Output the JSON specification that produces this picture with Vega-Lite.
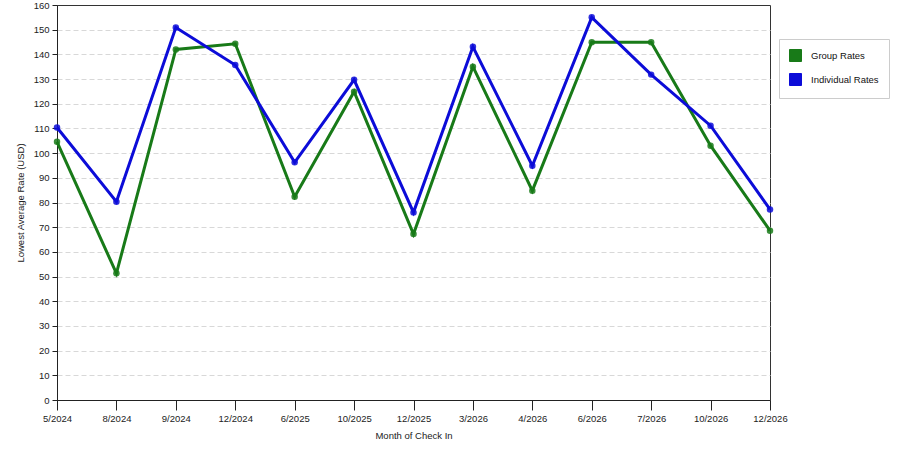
{
  "$schema": "https://vega.github.io/schema/vega-lite/v6.json",
  "autosize": {"type": "none"},
  "padding": {"left": 57, "top": 5, "right": 130, "bottom": 50},
  "width": 713,
  "height": 395,
  "background": "white",
  "config": {
    "font": "Liberation Sans",
    "view": {"stroke": "#333", "strokeWidth": 1},
    "axis": {
      "labelFont": "Liberation Sans",
      "labelFontSize": 9.5,
      "labelColor": "#222",
      "titleFont": "Liberation Sans",
      "titleFontSize": 9.5,
      "titleFontWeight": "normal",
      "titleColor": "#222",
      "domainColor": "#222",
      "tickColor": "#222"
    }
  },
  "data": {
    "values": [
      {"month": "5/2024", "series": "Group Rates", "rate": 104.6},
      {"month": "5/2024", "series": "Individual Rates", "rate": 110.4},
      {"month": "8/2024", "series": "Group Rates", "rate": 51.3},
      {"month": "8/2024", "series": "Individual Rates", "rate": 80.3},
      {"month": "9/2024", "series": "Group Rates", "rate": 142.0},
      {"month": "9/2024", "series": "Individual Rates", "rate": 150.9},
      {"month": "12/2024", "series": "Group Rates", "rate": 144.3},
      {"month": "12/2024", "series": "Individual Rates", "rate": 135.7},
      {"month": "6/2025", "series": "Group Rates", "rate": 82.3},
      {"month": "6/2025", "series": "Individual Rates", "rate": 96.3},
      {"month": "10/2025", "series": "Group Rates", "rate": 124.9},
      {"month": "10/2025", "series": "Individual Rates", "rate": 129.7},
      {"month": "12/2025", "series": "Group Rates", "rate": 67.2},
      {"month": "12/2025", "series": "Individual Rates", "rate": 76.0},
      {"month": "3/2026", "series": "Group Rates", "rate": 135.0},
      {"month": "3/2026", "series": "Individual Rates", "rate": 143.1},
      {"month": "4/2026", "series": "Group Rates", "rate": 84.8},
      {"month": "4/2026", "series": "Individual Rates", "rate": 94.9},
      {"month": "6/2026", "series": "Group Rates", "rate": 144.9},
      {"month": "6/2026", "series": "Individual Rates", "rate": 155.0},
      {"month": "7/2026", "series": "Group Rates", "rate": 144.9},
      {"month": "7/2026", "series": "Individual Rates", "rate": 131.8},
      {"month": "10/2026", "series": "Group Rates", "rate": 103.0},
      {"month": "10/2026", "series": "Individual Rates", "rate": 111.1},
      {"month": "12/2026", "series": "Group Rates", "rate": 68.6},
      {"month": "12/2026", "series": "Individual Rates", "rate": 77.2}
    ]
  },
  "mark": {
    "type": "line",
    "strokeWidth": 3,
    "clip": false,
    "point": {"filled": true, "size": 42, "opacity": 0.85}
  },
  "encoding": {
    "x": {
      "field": "month",
      "type": "ordinal",
      "sort": null,
      "scale": {"type": "point", "padding": 0},
      "axis": {
        "title": "Month of Check In",
        "labelAngle": 0,
        "tickSize": 10,
        "labelPadding": 3,
        "titlePadding": 8,
        "grid": false
      }
    },
    "y": {
      "field": "rate",
      "type": "quantitative",
      "scale": {"domain": [0, 160], "nice": false},
      "axis": {
        "title": "Lowest Average Rate (USD)",
        "values": [0, 10, 20, 30, 40, 50, 60, 70, 80, 90, 100, 110, 120, 130, 140, 150, 160],
        "tickSize": 5,
        "labelPadding": 3,
        "titlePadding": 8,
        "grid": true,
        "gridColor": "#d8d8d8",
        "gridDash": [5, 3],
        "gridOpacity": {"condition": {"test": "datum.value === 160 || datum.value === 0", "value": 0}, "value": 1}
      }
    },
    "color": {
      "field": "series",
      "type": "nominal",
      "scale": {"domain": ["Group Rates", "Individual Rates"], "range": ["#187a18", "#0c0cd8"]},
      "legend": {
        "title": null,
        "orient": "none",
        "legendX": 722,
        "legendY": 34,
        "padding": 10,
        "fillColor": "white",
        "strokeColor": "#ccc",
        "symbolType": "square",
        "symbolSize": 144,
        "symbolStrokeWidth": 1,
        "labelFont": "Liberation Sans",
        "labelFontSize": 9.5,
        "labelColor": "#111",
        "labelOffset": 9,
        "rowPadding": 7,
        "encode": {
          "symbols": {
            "update": {
              "shape": {"value": "square"},
              "fill": {"scale": "color", "field": "value"},
              "fillOpacity": {"value": 1},
              "stroke": {"value": "#224"},
              "strokeWidth": {"value": 1}
            }
          }
        }
      }
    }
  }
}
